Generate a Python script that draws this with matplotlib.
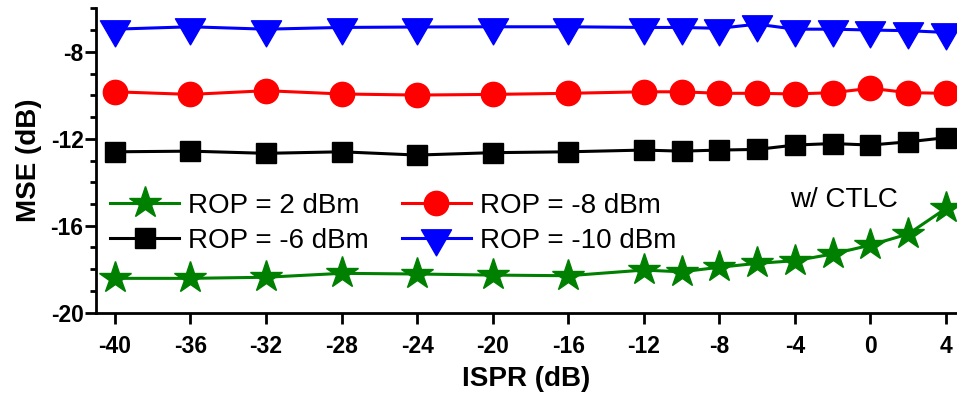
import matplotlib
matplotlib.use("Agg")
import matplotlib.pyplot as plt
from matplotlib.path import Path
from matplotlib.ticker import MultipleLocator

plt.rcParams['font.family'] = ['Liberation Sans', 'DejaVu Sans']
plt.rcParams['axes.unicode_minus'] = False

ispr = [-40, -36, -32, -28, -24, -20, -16, -12, -10, -8, -6, -4, -2, 0, 2, 4]

mse_rop_2 = [-18.42, -18.42, -18.37, -18.19, -18.22, -18.27, -18.30, -18.04,
             -18.12, -17.91, -17.73, -17.61, -17.30, -16.89, -16.38, -15.20]
mse_rop_m6 = [-12.60, -12.57, -12.67, -12.60, -12.75, -12.64, -12.60, -12.52,
              -12.57, -12.52, -12.49, -12.29, -12.22, -12.29, -12.14, -11.95]
mse_rop_m8 = [-9.84, -9.96, -9.79, -9.94, -9.99, -9.96, -9.91, -9.84,
              -9.84, -9.91, -9.91, -9.94, -9.88, -9.68, -9.88, -9.91]
mse_rop_m10 = [-6.96, -6.85, -6.96, -6.88, -6.86, -6.85, -6.85, -6.88,
               -6.88, -6.92, -6.73, -6.96, -6.96, -7.00, -7.03, -7.11]

labels = ['ROP = 2 dBm', 'ROP = -6 dBm', 'ROP = -8 dBm', 'ROP = -10 dBm']

# downward triangle with its centroid at the origin
tri_down = Path([(-0.866, 0.5), (0.866, 0.5), (0.0, -1.0), (-0.866, 0.5)],
                [Path.MOVETO, Path.LINETO, Path.LINETO, Path.CLOSEPOLY])

fig = plt.figure(figsize=(9.57, 3.95), dpi=100)
ax = fig.add_axes([96 / 957, 82.3 / 395, 1 - 96 / 957, 304.4 / 395])

lw = 2.2
ax.plot(ispr, mse_rop_2, color='#008000', lw=lw, marker='*', ms=24,
        mec='#008000', mew=1, label=labels[0])
ax.plot(ispr, mse_rop_m6, color='black', lw=lw, marker='s', ms=15,
        mec='black', mew=1, label=labels[1])
ax.plot(ispr, mse_rop_m8, color='#ff0000', lw=lw, marker='o', ms=17.5,
        mec='#ff0000', mew=1, label=labels[2])
ax.plot(ispr, mse_rop_m10, color='#0000ff', lw=lw, marker=tri_down, ms=25,
        mec='#0000ff', mew=1, label=labels[3])

ax.set_xlim(-41, 4.58)
ax.set_ylim(-20, -6)
ax.xaxis.set_major_locator(MultipleLocator(4))
ax.yaxis.set_major_locator(MultipleLocator(4))
ax.yaxis.set_minor_locator(MultipleLocator(1))

for side in ('top', 'right'):
    ax.spines[side].set_visible(False)
for side in ('left', 'bottom'):
    ax.spines[side].set_linewidth(2)

ax.tick_params(axis='both', which='major', direction='out', length=8,
               width=2, labelsize=16.5)
ax.tick_params(axis='x', which='major', pad=8)
ax.tick_params(axis='y', which='major', pad=1)
ax.tick_params(axis='y', which='minor', direction='out', length=4, width=2)
for lab in ax.get_xticklabels() + ax.get_yticklabels():
    lab.set_fontweight('bold')

ax.set_xlabel('ISPR (dB)', fontsize=20, fontweight='bold', labelpad=6)
ax.set_ylabel('MSE (dB)', fontsize=20, fontweight='bold', labelpad=6)

ax.text(-4.25, -14.82, 'w/ CTLC', fontsize=20, ha='left', va='center')

ax.legend(ncol=2, loc='upper left', bbox_to_anchor=(0.0, 0.44),
          frameon=False, fontsize=20, handlelength=2.5, handletextpad=0.3,
          columnspacing=1.2, labelspacing=0.33, borderpad=0.2,
          borderaxespad=0.3)

fig.savefig('out.png', dpi=100)
